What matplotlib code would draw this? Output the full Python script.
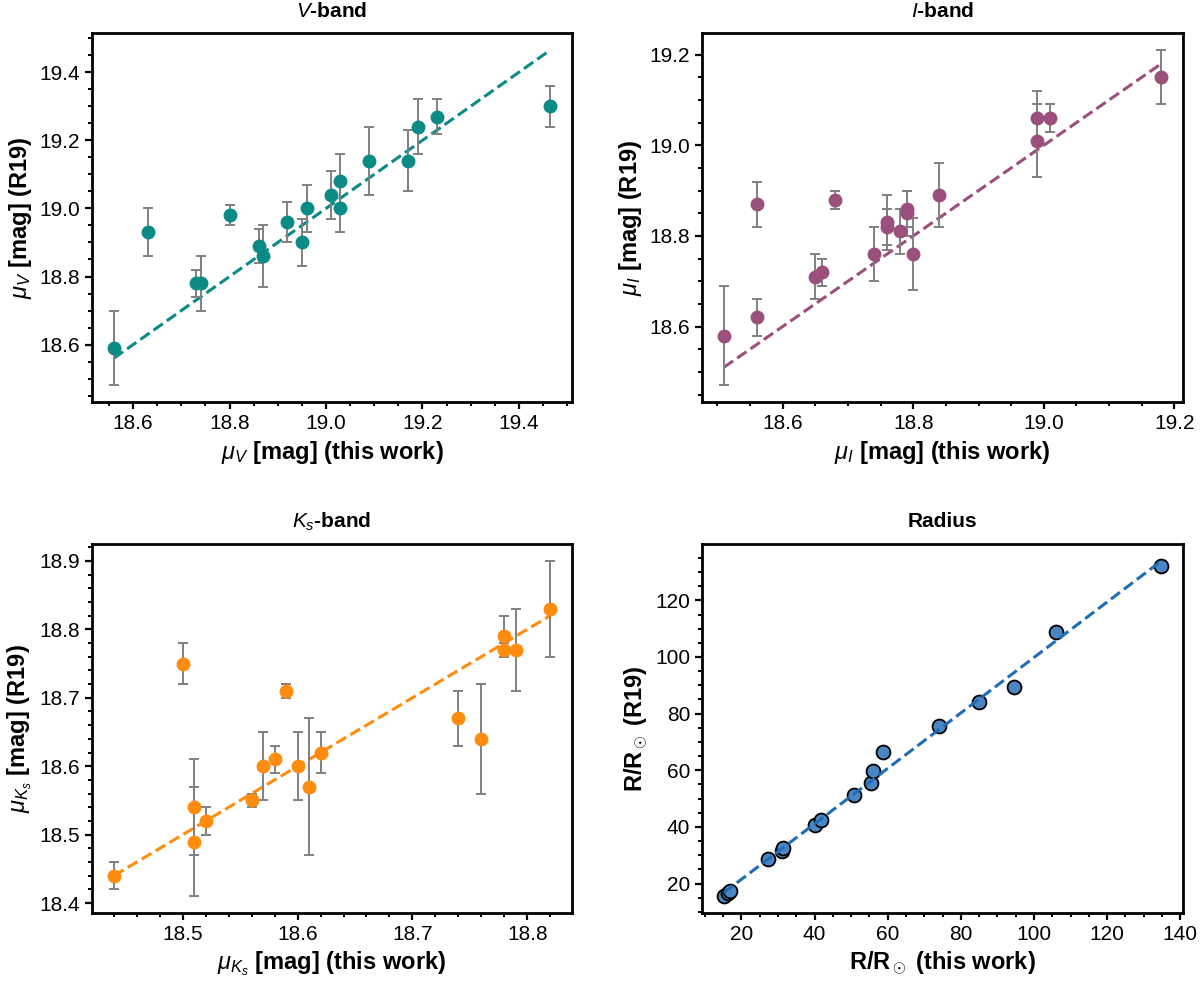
import numpy as np
import matplotlib
matplotlib.use('Agg')
import matplotlib.pyplot as plt
from matplotlib.ticker import AutoMinorLocator

plt.rcParams['font.family'] = ['Liberation Sans', 'DejaVu Sans']
plt.rcParams['mathtext.fontset'] = 'custom'
plt.rcParams['mathtext.rm'] = 'Liberation Sans'
plt.rcParams['mathtext.it'] = 'Liberation Sans:italic'
plt.rcParams['mathtext.bf'] = 'Liberation Sans:bold'

# V-band
v_this = [18.56, 18.63, 18.73, 18.74, 18.80, 18.86, 18.87, 18.92, 18.95, 18.96,
          19.01, 19.03, 19.03, 19.09, 19.17, 19.19, 19.23, 19.465]
v_r19 = [18.59, 18.93, 18.78, 18.78, 18.98, 18.89, 18.86, 18.96, 18.90, 19.00,
         19.04, 19.08, 19.00, 19.14, 19.14, 19.24, 19.27, 19.30]
v_err = [0.11, 0.07, 0.04, 0.08, 0.03, 0.05, 0.09, 0.06, 0.07, 0.07,
         0.07, 0.08, 0.07, 0.10, 0.09, 0.08, 0.05, 0.06]

# I-band
i_this = [18.51, 18.56, 18.56, 18.65, 18.66, 18.68, 18.74, 18.76, 18.76, 18.78,
          18.79, 18.79, 18.80, 18.84, 18.99, 18.99, 19.01, 19.18]
i_r19 = [18.58, 18.87, 18.62, 18.71, 18.72, 18.88, 18.76, 18.83, 18.82, 18.81,
         18.86, 18.85, 18.76, 18.89, 19.06, 19.01, 19.06, 19.15]
i_err = [0.11, 0.05, 0.04, 0.05, 0.03, 0.02, 0.06, 0.06, 0.04, 0.05,
         0.04, 0.05, 0.08, 0.07, 0.06, 0.08, 0.03, 0.06]

# Ks-band
k_this = [18.44, 18.50, 18.51, 18.51, 18.52, 18.56, 18.57, 18.58, 18.59, 18.60,
          18.61, 18.62, 18.74, 18.76, 18.78, 18.78, 18.79, 18.82]
k_r19 = [18.44, 18.75, 18.54, 18.49, 18.52, 18.55, 18.60, 18.61, 18.71, 18.60,
         18.57, 18.62, 18.67, 18.64, 18.79, 18.77, 18.77, 18.83]
k_err = [0.02, 0.03, 0.07, 0.08, 0.02, 0.01, 0.05, 0.02, 0.01, 0.05,
         0.10, 0.03, 0.04, 0.08, 0.03, 0.01, 0.06, 0.07]

# radius
r_this = [15.2, 16.3, 16.8, 27.4, 31.2, 31.4, 40.0, 41.8, 50.9, 55.3,
          55.9, 58.7, 74.1, 84.9, 94.5, 106.0, 134.8]
r_r19 = [15.5, 16.8, 17.4, 28.7, 31.6, 32.5, 40.5, 42.3, 51.3, 55.6,
         59.6, 66.3, 75.8, 84.0, 89.5, 108.8, 132.0]

fig = plt.figure(figsize=(12, 9.81), dpi=100)
ax1 = fig.add_axes([0.0767, 0.590, 0.400, 0.376])
ax2 = fig.add_axes([0.585, 0.590, 0.401, 0.376])
ax3 = fig.add_axes([0.0767, 0.0693, 0.400, 0.376])
ax4 = fig.add_axes([0.585, 0.0693, 0.401, 0.376])


def band(ax, x, y, err, col):
    ax.errorbar(x, y, yerr=err, fmt='o', color=col, ms=9, mec=col,
                ecolor='gray', elinewidth=1.4, capsize=3.5, capthick=1.4, zorder=3)
    lo, hi = min(x), max(x)
    ax.plot([lo, hi], [lo, hi], '--', color=col, lw=2.2, zorder=2)


band(ax1, v_this, v_r19, v_err, '#0b8b86')
band(ax2, i_this, i_r19, i_err, '#9b4f7d')
band(ax3, k_this, k_r19, k_err, '#ff8c0f')

# straight-line fit for the radius panel
p = np.polyfit(r_this, r_r19, 1)
xf = np.array([min(r_this), max(r_this)])
ax4.plot(r_this, r_r19, 'o', color='#4b86c3', ms=10, mec='black', mew=1.3, zorder=3)
ax4.plot(xf, np.polyval(p, xf), '--', color='#1f6eb5', lw=2.2, zorder=4)

ax1.set_title('$V$-band', fontsize=15, fontweight='bold', pad=12)
ax2.set_title('$I$-band', fontsize=15, fontweight='bold', pad=12)
ax3.set_title('$K_s$-band', fontsize=15, fontweight='bold', pad=12)
ax4.set_title('Radius', fontsize=15, fontweight='bold', pad=12)

ax1.set_xlabel(r'$\mu_V$ [mag] (this work)', fontsize=17, fontweight='bold')
ax1.set_ylabel(r'$\mu_V$ [mag] (R19)', fontsize=17, fontweight='bold')
ax2.set_xlabel(r'$\mu_I$ [mag] (this work)', fontsize=17, fontweight='bold')
ax2.set_ylabel(r'$\mu_I$ [mag] (R19)', fontsize=17, fontweight='bold')
ax3.set_xlabel(r'$\mu_{K_s}$ [mag] (this work)', fontsize=17, fontweight='bold')
ax3.set_ylabel(r'$\mu_{K_s}$ [mag] (R19)', fontsize=17, fontweight='bold')
ax4.set_xlabel(r'R/R$_\odot$ (this work)', fontsize=17, fontweight='bold')
ax4.set_ylabel(r'R/R$_\odot$ (R19)', fontsize=17, fontweight='bold')

for ax in [ax1, ax2, ax3, ax4]:
    ax.xaxis.set_minor_locator(AutoMinorLocator())
    ax.yaxis.set_minor_locator(AutoMinorLocator())
    ax.tick_params(which='major', direction='out', length=5, width=1.6, labelsize=15)
    ax.tick_params(which='minor', direction='out', length=3, width=1.4)
    for s in ax.spines.values():
        s.set_linewidth(2)

ax1.set_xticks([18.6, 18.8, 19.0, 19.2, 19.4])
ax1.set_yticks([18.6, 18.8, 19.0, 19.2, 19.4])
ax2.set_xticks([18.6, 18.8, 19.0, 19.2])
ax2.set_yticks([18.6, 18.8, 19.0, 19.2])
ax3.set_xticks([18.5, 18.6, 18.7, 18.8])
ax3.set_yticks([18.4, 18.5, 18.6, 18.7, 18.8, 18.9])
ax1.xaxis.set_minor_locator(AutoMinorLocator(4))
ax1.yaxis.set_minor_locator(AutoMinorLocator(4))
ax2.xaxis.set_minor_locator(AutoMinorLocator(4))
ax2.yaxis.set_minor_locator(AutoMinorLocator(4))

plt.savefig('out.png', dpi=100)
